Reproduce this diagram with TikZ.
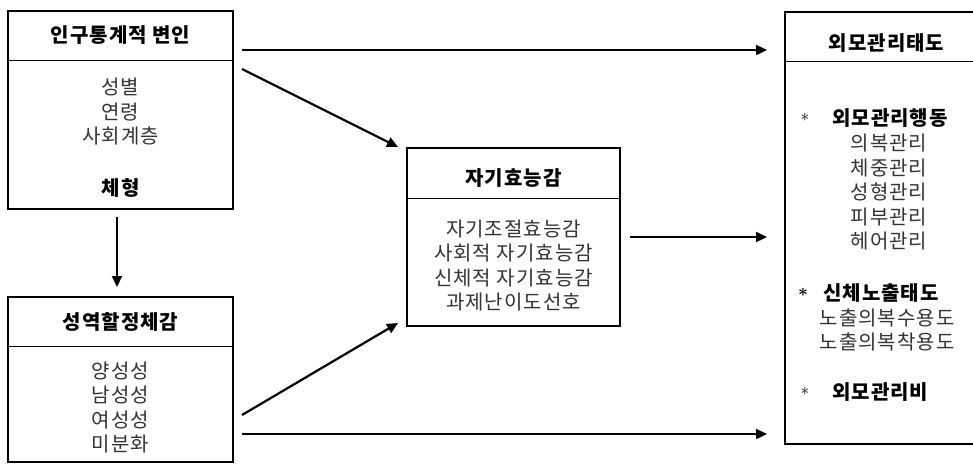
\documentclass[tikz,border=0pt]{standalone}
\usepackage{fontspec}
\setmainfont{Noto Sans CJK KR}[LetterSpace=5]
\usetikzlibrary{calc}
\usetikzlibrary{arrows.meta}
\tikzset{
	box/.style={draw, line width=2pt, inner sep=0pt, outer sep=0pt},
	sep/.style={line width=1pt},
	title/.style={font=\fontsize{20}{24.5}\selectfont\bfseries, inner sep=0pt},
	item/.style={font=\fontsize{20}{24.5}\selectfont, text=black!80, align=center, inner sep=0pt},
	asterisk/.style={font=\fontsize{16}{20}\selectfont, inner sep=0pt},
	boldasterisk/.style={font=\fontsize{18}{20}\selectfont\boldmath, inner sep=0pt},
	arr/.style={line width=2.2pt, -{Triangle[length=11pt,width=10pt]}},
}

\begin{document}
\begin{tikzpicture}[x=1pt,y=-1pt]
\useasboundingbox (0,0) rectangle (973,464);
% boxes
\node[box, minimum width=225pt, minimum height=198pt] (demo) at (120.5,110) {};
\node[box, minimum width=225pt, minimum height=165pt] (role) at (120.5,379.5) {};
\node[box, minimum width=213pt, minimum height=178pt] (eff) at (513.5,237) {};
\node[box, minimum width=203pt, minimum height=432pt] (look) at (886.5,228) {};
\draw[sep] ($(demo.north west)+(0,49)$) -- ($(demo.north east)+(0,49)$);
\draw[sep] ($(role.north west)+(0,49)$) -- ($(role.north east)+(0,49)$);
\draw[sep] ($(eff.north west)+(0,50)$) -- ($(eff.north east)+(0,50)$);
\draw[sep] ($(look.north west)+(0,49)$) -- ($(look.north east)+(0,49)$);
% texts
\node[title] (demoT) at (120.5,35) {인구통계적 변인};
\node[item] (demoI) at (120.5,112) {성별\\연령\\사회계층};
\node[title] (body) at (120.5,188) {체형};
\node[title] (roleT) at (120.5,322) {성역할정체감};
\node[item] (roleI) at (120.5,407.5) {양성성\\남성성\\여성성\\미분화};
\node[title] (effT) at (513.5,178) {자기효능감};
\node[item] (effI) at (513.5,265.5) {자기조절효능감\\사회적 자기효능감\\신체적 자기효능감\\과제난이도선호};
\node[title] (lookT) at (886.5,43) {외모관리태도};
\node[asterisk] (s1) at (805,117) {$\ast$};
\node[title, anchor=west] (behav) at (832,118) {외모관리행동};
\node[item] (behavI) at (889,192.5) {의복관리\\체중관리\\성형관리\\피부관리\\헤어관리};
\node[boldasterisk] (s2) at (803,292) {$\ast$};
\node[title, anchor=west] (expo) at (823,293) {신체노출태도};
\node[item] (expoI) at (887,330) {노출의복수용도\\노출의복착용도};
\node[asterisk] (s3) at (805,391) {$\ast$};
\node[title, anchor=west] (cost) at (832,392) {외모관리비};
% arrows
\draw[arr] ($(demo.north east)+(9,39)$) -- ($(look.north west)+(-18,38)$);
\draw[arr] ($(demo.north east)+(9,58)$) -- ($(eff.north west)+(-9,-1)$);
\draw[arr] ($(demo.south)+(-3.5,8)$) -- ($(role.north)+(-3.5,-10)$);
\draw[arr] ($(role.north east)+(9,118)$) -- ($(eff.south west)+(-9,-3)$);
\draw[arr] ($(role.south east)+(9,-28)$) -- ($(look.south west)+(-18,-10)$);
\draw[arr] ($(eff.east)+(10,0)$) -- ($(look.west)+(-18,9)$);
\end{tikzpicture}
\end{document}
